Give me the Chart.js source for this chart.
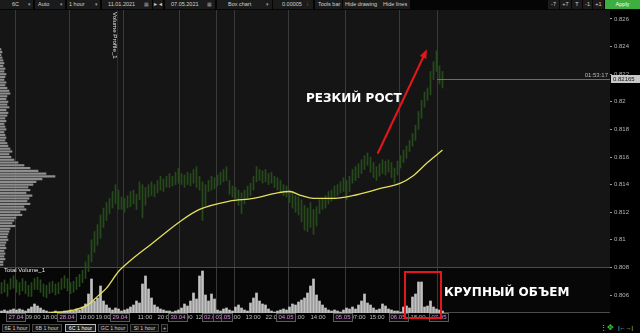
<!DOCTYPE html>
<html lang="ru"><head><meta charset="utf-8"><title>6C 1 hour</title>
<script src="https://cdn.jsdelivr.net/npm/chart.js@4/dist/chart.umd.min.js"></script>
<style>
*{box-sizing:border-box}
html,body{margin:0;padding:0;width:640px;height:333px;overflow:hidden;background:#000;font-family:"Liberation Sans",Arial,sans-serif}
#toolbar{position:absolute;left:0;top:0;width:640px;height:10px;background:#050505}
.tb{position:absolute;top:0;height:9px;background:#1b1b1b;color:#d2d2d2;font-size:5.5px;line-height:9px;white-space:nowrap}
.tb span{position:absolute;top:0}
.tb .dd{color:#9a9a9a;font-size:5px}
.tb.c{text-align:center}
.apply{background:#3dae3f;color:#fff;text-align:center}
#wrap{position:absolute;left:0;top:10px;width:640px;height:313px}
#tabs{position:absolute;left:0;top:323px;width:640px;height:10px;background:#000}
.tab{position:absolute;top:1px;height:8px;border:1px solid #454545;background:#101010;color:#cfcfcf;font-size:5.3px;line-height:6px;text-align:center;white-space:nowrap}
.tab.sel{border-color:#b8b8b8;background:#1e1e1e;color:#fff}
.lbl{position:absolute;color:#e8e8e8;white-space:nowrap}
.ann{position:absolute;color:#fff;font-family:"DejaVu Sans",sans-serif;font-weight:bold;font-size:12px;line-height:12px;white-space:nowrap}
</style></head>
<body>
<div id="toolbar">
 <div class="tb" style="left:0;width:33px"><span style="left:12px">6C</span><span class="dd" style="left:28px">▾</span></div>
 <div class="tb" style="left:35px;width:30px"><span style="left:3px">Auto</span><span class="dd" style="left:25px">▾</span></div>
 <div class="tb" style="left:67px;width:33px"><span style="left:2px">1 hour</span><span class="dd" style="left:28px">▾</span></div>
 <div class="tb" style="left:102px;width:50px"><span style="left:6px">11.01.2021</span><span class="dd" style="left:42px">▦</span></div>
 <div class="tb" style="left:153px;width:10px"><span style="left:1px">▸ ◂</span></div>
 <div class="tb" style="left:165px;width:50px"><span style="left:6px">07.05.2021</span><span class="dd" style="left:42px">▦</span></div>
 <div class="tb" style="left:217px;width:55px"><span style="left:11px">Box chart</span><span class="dd" style="left:49px">▾</span></div>
 <div class="tb" style="left:273px;width:40px"><span style="left:9px">0.00005</span><span class="dd" style="left:34px">⁝</span></div>
 <div class="tb" style="left:315px;width:27px"><span style="left:3px">Tools bar</span></div>
 <div class="tb" style="left:343px;width:67px"><span style="left:2px">Hide drawing</span><span style="left:40px">Hide lines</span></div>
 <div class="tb c" style="left:548px;width:11px">-7</div>
 <div class="tb c" style="left:560px;width:11px">+7</div>
 <div class="tb c" style="left:572px;width:10px">T</div>
 <div class="tb c" style="left:583px;width:9px">-1</div>
 <div class="tb c" style="left:593px;width:11px">+1</div>
 <div class="tb apply" style="left:605px;width:35px">Apply</div>
</div>
<div id="wrap"><canvas id="c" width="640" height="313"></canvas></div>
<div id="tabs">
 <div class="tab" style="left:2px;width:28px">6E 1 hour</div>
 <div class="tab" style="left:32px;width:30px">6B 1 hour</div>
 <div class="tab sel" style="left:65px;width:31px">6C 1 hour</div>
 <div class="tab" style="left:98px;width:30px">GC 1 hour</div>
 <div class="tab" style="left:130px;width:29px">SI 1 hour</div>
 <div class="tab" style="left:161px;width:7px">+</div>
 <div class="lbl" style="left:600px;top:1px;font-size:7px;line-height:8px;color:#ccc">⋮</div>
 <div class="lbl" style="left:607px;top:0;font-size:8px;line-height:9px;color:#3ec43e">✥</div>
 <div class="lbl" style="left:618px;top:1px;font-size:6px;line-height:8px;color:#ccc">|←→|</div>
</div>
<div class="lbl" style="left:4px;top:267px;font-size:6px;line-height:6px">Total Volume_1</div>
<div class="lbl" style="left:112px;top:12px;font-size:6.2px;line-height:6px;writing-mode:vertical-rl">Volume Profile_1</div>
<div class="ann" style="left:306px;top:92px">РЕЗКИЙ РОСТ</div>
<div class="ann" style="left:444px;top:286px">КРУПНЫЙ ОБЪЕМ</div>
<script>
// ---------- DATA (hourly bars, 6C futures) ----------
const priceHigh = [
 0.8069,0.8071,0.8068,0.8072,0.8074,0.8071,0.8069,0.8072,0.8070,0.8067,
 0.8069,0.8072,0.8073,0.8071,0.8068,0.8067,0.8069,0.8070,0.8068,0.8069,
 0.8072,0.8074,0.8072,0.8069,0.8070,0.8073,0.8075,0.8078,0.8084,0.8089,
 0.8100,0.8106,0.8111,0.8118,0.8123,0.8127,0.8130,0.8135,0.8140,0.8136,
 0.8131,0.8130,0.8132,0.8135,0.8136,0.8133,0.8142,0.8140,0.8138,0.8140,
 0.8142,0.8140,0.8143,0.8146,0.8144,0.8146,0.8148,0.8146,0.8149,0.8152,
 0.8148,0.8147,0.8149,0.8148,0.8151,0.8153,0.8146,0.8142,0.8140,0.8143,
 0.8146,0.8145,0.8147,0.8149,0.8151,0.8153,0.8143,0.8139,0.8138,0.8136,
 0.8134,0.8136,0.8139,0.8141,0.8146,0.8153,0.8151,0.8150,0.8151,0.8148,
 0.8149,0.8146,0.8145,0.8143,0.8140,0.8139,0.8136,0.8135,0.8132,0.8131,
 0.8129,0.8125,0.8123,0.8127,0.8122,0.8124,0.8129,0.8130,0.8132,0.8135,
 0.8136,0.8139,0.8140,0.8142,0.8145,0.8143,0.8146,0.8151,0.8153,0.8155,
 0.8158,0.8161,0.8163,0.8160,0.8156,0.8153,0.8155,0.8158,0.8157,0.8158,
 0.8156,0.8152,0.8157,0.8161,0.8165,0.8168,0.8172,0.8177,0.8183,0.8193,
 0.8201,0.8207,0.8210,0.8222,0.8229,0.8237,0.8226,0.8222
];
const priceLow = [
 0.8061,0.8062,0.8059,0.8064,0.8065,0.8062,0.8060,0.8063,0.8061,0.8059,
 0.8059,0.8064,0.8064,0.8062,0.8059,0.8058,0.8061,0.8062,0.8060,0.8061,
 0.8064,0.8065,0.8063,0.8061,0.8062,0.8064,0.8066,0.8069,0.8072,0.8077,
 0.8084,0.8091,0.8096,0.8101,0.8109,0.8114,0.8119,0.8123,0.8126,0.8122,
 0.8122,0.8120,0.8123,0.8124,0.8126,0.8122,0.8129,0.8116,0.8125,0.8131,
 0.8132,0.8131,0.8134,0.8136,0.8135,0.8138,0.8138,0.8139,0.8140,0.8141,
 0.8140,0.8138,0.8140,0.8139,0.8141,0.8138,0.8136,0.8114,0.8125,0.8135,
 0.8136,0.8137,0.8139,0.8140,0.8142,0.8143,0.8133,0.8131,0.8130,0.8125,
 0.8119,0.8126,0.8130,0.8132,0.8136,0.8142,0.8143,0.8141,0.8142,0.8140,
 0.8141,0.8138,0.8136,0.8134,0.8132,0.8131,0.8127,0.8123,0.8120,0.8118,
 0.8113,0.8107,0.8106,0.8109,0.8104,0.8110,0.8119,0.8122,0.8123,0.8126,
 0.8128,0.8130,0.8132,0.8134,0.8135,0.8129,0.8135,0.8141,0.8143,0.8145,
 0.8148,0.8151,0.8154,0.8149,0.8145,0.8143,0.8146,0.8148,0.8147,0.8149,
 0.8145,0.8141,0.8147,0.8152,0.8156,0.8159,0.8164,0.8168,0.8172,0.8180,
 0.8188,0.8196,0.8201,0.8205,0.8216,0.8222,0.8213,0.8210
];
const volume = [
 200,300,200,300,400,300,400,300,200,400,
 600,900,700,500,300,200,100,100,200,100,
 100,200,200,300,200,400,300,600,900,1900,
 3400,1200,1500,2700,1200,800,500,300,500,400,
 200,300,400,600,800,1200,1000,2900,3700,2400,
 1500,800,600,400,300,200,200,100,200,300,
 500,900,700,1200,2000,1400,3700,4200,1800,1200,
 1900,1400,300,200,400,500,300,200,600,800,
 500,300,200,1000,1500,2000,1200,900,800,400,
 200,100,200,300,400,300,600,900,800,1100,
 1300,1500,2000,2700,3400,1800,1200,800,500,300,
 200,300,200,100,300,500,400,600,400,800,
 1200,1900,1000,800,500,300,400,900,700,400,
 300,200,200,100,600,700,500,1600,1900,3100,
 3100,600,700,1200,600,400,300,200
];
// moving average read at selected bars
const maIndex = [16,24,29,32,35,39,43,50,60,66,76,84,92,96,100,104,110,117,126,133,137,142,147];
const maValue = [0.8047,0.8049,0.8053,0.8059,0.8065,0.8077,0.8085,0.8097,0.8114,0.8122,0.8128,0.8130,0.8134,0.8135,0.8132,0.8130,0.8130,0.8132,0.8137,0.8141,0.8146,0.8156,0.8165];
// volume profile (price level -> volume)
const profileLevels = [
 0.8238,0.8236,0.8234,0.8232,0.8230,0.8228,0.8226,0.8224,0.8222,0.8220,
 0.8218,0.8216,0.8214,0.8212,0.8210,0.8208,0.8206,0.8204,0.8202,0.8200,
 0.8198,0.8196,0.8194,0.8192,0.8190,0.8188,0.8186,0.8184,0.8182,0.8180,
 0.8178,0.8176,0.8174,0.8172,0.8170,0.8168,0.8166,0.8164,0.8162,0.8160,
 0.8158,0.8156,0.8154,0.8152,0.8150,0.8148,0.8146,0.8144,0.8142,0.8140,
 0.8138,0.8136,0.8134,0.8132,0.8130,0.8128,0.8126,0.8124,0.8122,0.8120,
 0.8118,0.8116,0.8114,0.8112,0.8110,0.8108,0.8106,0.8104,0.8102,0.8100,
 0.8098,0.8096,0.8094,0.8092,0.8090,0.8088,0.8086,0.8084,0.8082
];
const profileVolume = [
 10,20,10,20,30,40,30,50,40,60,
 50,40,60,50,70,90,100,70,60,80,
 70,90,60,80,70,50,60,40,50,60,
 40,50,60,50,70,80,100,120,90,110,
 140,180,240,300,380,460,550,420,360,330,
 280,300,260,320,290,270,300,240,260,200,
 220,160,140,120,150,100,90,80,70,80,
 60,50,60,40,50,40,50,30,30
];
const priceTicks = [0.806,0.808,0.810,0.812,0.814,0.816,0.818,0.820,0.822,0.824,0.826];
const priceTickLabels = ['0.806','0.808','0.81','0.812','0.814','0.816','0.818','0.82','0.822','0.824','0.826'];
const timeTickLabels = ['09:00','18:00','10:00','19:00','11:00','20:00','21:00','12:00','09:00','13:00','22:00','07:00','14:00','07:00','15:00','18:00'];
const timeTickPos = [10.5,16.17,28.5,33.83,47.83,54.5,61.17,67.17,77.17,83.83,90.5,98.5,105.5,118.83,125.17,138.83];
const dateTickLabels = ['27.04','28.04','29.04','30.04','02.05','03.05','04.05','05.05','06.05','07.05'];
const dateTickPos = [4.83,21.83,39.5,58.83,70,73.83,94.83,113.83,132.17,145.83];
const daySeparators = [4.5,22.5,40.83,59.17,71.83,77.5,95.5,114.5,132.5,145.17];
const profileMarker = 38.5;
const lastPrice = 0.82165, lastPriceLabel = '0.82165', clockLabel = '01:53:17', lastPriceFrom = 145.2;
const arrowFrom = {x:125.5, y:0.8163}, arrowTo = {x:141.8, y:0.8238};
const boxFrom = {x:134.5, v:4100}, boxTo = {x:146.5, v:-500};

// ---------- CHART ----------
const FONT = '"Liberation Sans", Arial, sans-serif';
const X_MIN = -0.5, X_MAX = 202.833, Y_MIN = 0.804696, Y_MAX = 0.826652;
const VOL_MAX = 30300, VOL_PANE_TOP = 4600;
const xTicksAll = timeTickPos.map((v,k)=>({value:v,label:timeTickLabels[k]}))
  .concat(dateTickPos.map((v,k)=>({value:v,label:dateTickLabels[k]})));
const nTime = timeTickPos.length;
const gridTicks = daySeparators.concat([profileMarker]);

function fix(w,h){ return s => { if (w!=null) s.width=w; if (h!=null) s.height=h;
  s.paddingLeft=0; s.paddingRight=0; s.paddingTop=0; s.paddingBottom=0; }; }

const decor = {
  id:'decor',
  beforeDraw(chart){
    const {ctx, chartArea:a, scales:{yVol}} = chart;
    ctx.save();
    ctx.fillStyle='#000'; ctx.fillRect(0,0,chart.width,chart.height);
    ctx.fillStyle='#151515'; ctx.fillRect(a.left,a.top,a.right-a.left,a.bottom-a.top);
    const yp = Math.round(yVol.getPixelForValue(VOL_PANE_TOP));
    ctx.fillStyle='#070707'; ctx.fillRect(a.left,yp,a.right-a.left,a.bottom-yp);
    ctx.restore();
  },
  beforeDatasetsDraw(chart){
    const {ctx, chartArea:a, scales:{yVol}} = chart;
    const yp = Math.round(yVol.getPixelForValue(VOL_PANE_TOP))+0.5;
    ctx.save(); ctx.strokeStyle='#4a4a4a'; ctx.lineWidth=1;
    ctx.beginPath(); ctx.moveTo(a.left,yp); ctx.lineTo(a.right,yp);
    ctx.moveTo(a.left,a.bottom-0.5); ctx.lineTo(a.right,a.bottom-0.5); ctx.stroke();
    ctx.restore();
  },
  afterDatasetsDraw(chart){
    const {ctx, chartArea:a, scales:{x,y,yVol}} = chart;
    ctx.save();
    const py = Math.round(y.getPixelForValue(lastPrice))+0.5;
    ctx.strokeStyle='#6c6c6c'; ctx.lineWidth=1;
    ctx.beginPath(); ctx.moveTo(x.getPixelForValue(lastPriceFrom),py); ctx.lineTo(a.right,py); ctx.stroke();
    ctx.fillStyle='#b9b9b9'; ctx.font='6px '+FONT; ctx.textAlign='right'; ctx.textBaseline='alphabetic';
    ctx.fillText(clockLabel, a.right-2, py-2.5);
    // arrow
    const x1=x.getPixelForValue(arrowFrom.x), y1=y.getPixelForValue(arrowFrom.y);
    const x2=x.getPixelForValue(arrowTo.x), y2=y.getPixelForValue(arrowTo.y);
    const ang=Math.atan2(y2-y1,x2-x1), hl=9, hw=3.6, c=Math.cos(ang), s=Math.sin(ang);
    ctx.strokeStyle='#e3161b'; ctx.fillStyle='#e3161b'; ctx.lineWidth=2.2; ctx.lineCap='round';
    ctx.beginPath(); ctx.moveTo(x1,y1); ctx.lineTo(x2-c*hl*0.8, y2-s*hl*0.8); ctx.stroke();
    ctx.beginPath(); ctx.moveTo(x2,y2);
    ctx.lineTo(x2-c*hl+s*hw, y2-s*hl-c*hw);
    ctx.lineTo(x2-c*hl-s*hw, y2-s*hl+c*hw);
    ctx.closePath(); ctx.fill();
    // box
    const bx1=x.getPixelForValue(boxFrom.x), bx2=x.getPixelForValue(boxTo.x);
    const by1=yVol.getPixelForValue(boxFrom.v), by2=yVol.getPixelForValue(boxTo.v);
    ctx.lineWidth=2; ctx.lineCap='butt'; ctx.strokeRect(bx1,by1,bx2-bx1,by2-by1);
    ctx.restore();
  },
  afterDraw(chart){
    const {ctx, scales:{x,y}} = chart;
    ctx.save();
    ctx.font='6px '+FONT; ctx.strokeStyle='#5a5a5a'; ctx.lineWidth=1;
    dateTickPos.forEach((v,k)=>{
      const cx=x.getPixelForValue(v), w=ctx.measureText(dateTickLabels[k]).width+4;
      ctx.strokeRect(Math.round(cx-w/2)+0.5, x.top+0.5, Math.round(w), 8);
    });
    const py=Math.round(y.getPixelForValue(lastPrice));
    ctx.fillStyle='#c8c8c8'; ctx.fillRect(y.left+1, py-4, 30, 8);
    ctx.fillStyle='#111'; ctx.textAlign='left'; ctx.textBaseline='middle';
    ctx.fillText(lastPriceLabel, y.left+3, py+0.5);
    ctx.restore();
  }
};

new Chart(document.getElementById('c'), {
  type:'bar',
  data:{ datasets:[
    { type:'line', label:'MA', xAxisID:'x', yAxisID:'y', order:1,
      data: maIndex.map((v,k)=>({x:v, y:maValue[k]})),
      borderColor:'#e4de5c', borderWidth:1.3, pointRadius:0, cubicInterpolationMode:'monotone', fill:false },
    { type:'bar', label:'6C', xAxisID:'x', yAxisID:'y', order:2, grouped:false,
      data: priceHigh.map((h,i)=>({x:i, y:[priceLow[i], h]})),
      backgroundColor:'#264a1b', barThickness:1 },
    { type:'bar', label:'Volume Profile_1', indexAxis:'y', xAxisID:'xProf', yAxisID:'y', order:3, grouped:false,
      data: profileLevels.map((p,k)=>({x:profileVolume[k], y:p})),
      backgroundColor:'#8e8e8e', barThickness:1.5 },
    { type:'bar', label:'Total Volume_1', xAxisID:'x', yAxisID:'yVol', order:4, grouped:false,
      data: volume.map((v,i)=>({x:i, y:v})),
      backgroundColor:'#c2c2c2', barThickness:2 }
  ]},
  options:{
    responsive:false, animation:false, events:[],
    layout:{padding:0},
    plugins:{legend:{display:false}, tooltip:{enabled:false}},
    scales:{
      x:{ type:'linear', position:'bottom', min:X_MIN, max:X_MAX, offset:false,
          grid:{display:false, drawTicks:false, offset:false}, border:{display:false},
          afterBuildTicks: s => { s.ticks = xTicksAll.map(t=>({value:t.value})); },
          afterFit: fix(null,10),
          ticks:{ autoSkip:false, maxRotation:0, minRotation:0, padding:1,
            font:{family:FONT, size:6},
            color: c => c.index >= nTime ? '#d58bd9' : '#bdbdbd',
            showLabelBackdrop: c => c.index >= nTime,
            backdropColor:'#0b0b0b', backdropPadding:{top:0.5,bottom:0.5,left:2,right:2},
            callback: (v,i) => xTicksAll[i] ? xTicksAll[i].label : '' } },
      xGrid:{ type:'linear', axis:'x', position:'bottom', min:X_MIN, max:X_MAX, offset:false,
          afterBuildTicks: s => { s.ticks = gridTicks.map(v=>({value:v})); },
          afterFit: fix(null,0),
          grid:{ drawOnChartArea:true, drawTicks:false, offset:false,
            color: c => (c.tick && c.tick.value === profileMarker) ? '#2b2b2b' : '#393939' },
          border:{display:false}, ticks:{display:false} },
      xProf:{ type:'linear', axis:'x', display:false, min:0, max:6100, offset:false, beginAtZero:true },
      y:{ type:'linear', position:'right', min:Y_MIN, max:Y_MAX, offset:false, beginAtZero:false,
          afterBuildTicks: s => { s.ticks = priceTicks.map(v=>({value:v})); },
          afterFit: fix(30,null),
          grid:{ drawOnChartArea:false, drawTicks:true, tickLength:2, color:'#9a9a9a', offset:false },
          border:{display:false},
          ticks:{ padding:2, font:{family:FONT, size:6}, color:'#b5b5b5',
            callback:(v,i)=>priceTickLabels[i] } },
      yVol:{ type:'linear', axis:'y', display:false, min:0, max:VOL_MAX, offset:false }
    }
  },
  plugins:[decor]
});
</script>
</body></html>
